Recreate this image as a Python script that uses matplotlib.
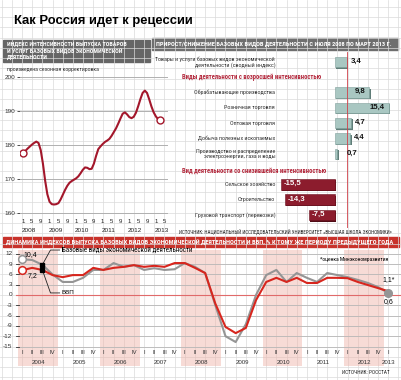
import matplotlib
matplotlib.use("Agg")
import matplotlib.pyplot as plt
import matplotlib.font_manager as fm
from matplotlib.patches import Rectangle
import numpy as np

W, H = 402, 380

# индекс интенсивности, помесячно с января 2008 по март 2013
intensity = [177.5, 178.2, 178.9, 179.5, 180.1, 180.6, 181.0, 180.6, 178.5, 174.5,
             169.5, 165.5, 163.3, 162.6, 162.5, 162.6, 162.9, 164.0, 165.4, 166.8,
             168.0, 168.9, 169.4, 169.8, 170.2, 170.8, 171.7, 172.7, 173.4, 173.3,
             172.9, 173.0, 174.5, 176.8, 178.8, 179.6, 180.3, 180.9, 181.3, 181.8,
             182.7, 183.8, 184.9, 186.3, 187.8, 189.2, 189.6, 189.0, 188.2, 187.9,
             188.3, 189.5, 191.4, 193.5, 195.3, 196.0, 195.3, 193.4, 191.3, 189.6,
             188.4, 187.6, 187.3]
intensity_years = [2008, 2009, 2010, 2011, 2012, 2013]
intensity_yticks = [160, 170, 180, 190, 200]

# прирост/снижение с июля 2008 по март 2013
total_label = "Товары и услуги базовых видов экономической\nдеятельности (сводный индекс)"
total_value = 3.4
up_labels = ["Обрабатывающие производства", "Розничная торговля", "Оптовая торговля",
             "Добыча полезных ископаемых",
             "Производство и распределение\nэлектроэнергии, газа и воды"]
up_values = [9.8, 15.4, 4.7, 4.4, 0.7]
down_labels = ["Сельское хозяйство", "Строительство", "Грузовой транспорт (перевозки)"]
down_values = [-15.5, -14.3, -7.5]

# поквартально, 2004 I - 2013 I
base_index = [10.4, 10.2, 8.8, 6.0, 3.8, 3.8, 5.0, 7.3, 7.3, 9.3,
              8.2, 8.7, 7.3, 7.8, 7.3, 7.5, 9.3, 8.2, 6.4, -3.0,
              -12.0, -13.7, -8.5, 0.0, 5.8, 7.3, 3.8, 6.4, 5.0, 3.8,
              6.4, 5.8, 5.2, 4.4, 3.5, 2.3, 0.6]
gdp = [7.2, 7.9, 7.3, 5.8, 5.2, 5.8, 5.8, 7.9, 7.3, 7.9,
       8.2, 8.7, 8.2, 8.5, 8.2, 9.3, 9.3, 7.9, 6.4, -2.5,
       -9.3, -11.1, -9.6, -1.5, 3.8, 5.0, 3.8, 5.0, 3.5, 3.5,
       5.0, 5.0, 4.9, 3.8, 2.9, 2.0, 1.1]
q_years = list(range(2004, 2014))
q_names = ["I", "II", "III", "IV"]
q_yticks = [12, 9, 6, 3, 0, -3, -6, -9, -12, -15]

# узкий шрифт, если он есть; иначе Liberation Sans помельче
names = {f.name for f in fm.fontManager.ttflist}
narrow = None
for n in ['Liberation Sans Narrow', 'Roboto Condensed', 'Open Sans Condensed', 'DejaVu Sans Condensed']:
    if n in names:
        narrow = n
        break
k = 1.15 if narrow else 1.0
NF = [narrow, 'Liberation Sans', 'DejaVu Sans'] if narrow else ['Liberation Sans', 'DejaVu Sans']
plt.rcParams['font.family'] = ['Liberation Sans', 'DejaVu Sans']

fig = plt.figure(figsize=(W / 100, H / 100), dpi=100)


def px_axes(x0, y0, x1, y1):
    a = fig.add_axes([x0 / W, 1 - y1 / H, (x1 - x0) / W, (y1 - y0) / H])
    a.set_facecolor('none')
    return a


# фон "миллиметровка" и подписи
bg = px_axes(0, 0, W, H)
bg.set_xlim(0, W)
bg.set_ylim(H, 0)
bg.axis('off')
for x in np.arange(22 - 10.175 * 3, W, 10.175):
    bg.plot([x, x], [0, H], color='#dadada', lw=0.5)
for y in np.arange(295 - 10.3 * 30, H, 10.3):
    bg.plot([0, W], [y, y], color='#dadada', lw=0.5)
bg.add_patch(Rectangle((0, 0), W, 34, color='white', alpha=0.35))

bg.text(14, 21, "Как Россия идет к рецессии", fontsize=9.4, fontweight='bold', va='center')

bg.add_patch(Rectangle((3, 40), 147, 22, color='#666666'))
bg.text(7, 51, "ИНДЕКС ИНТЕНСИВНОСТИ ВЫПУСКА ТОВАРОВ\nИ УСЛУГ БАЗОВЫХ ВИДОВ ЭКОНОМИЧЕСКОЙ\nДЕЯТЕЛЬНОСТИ",
        color='white', fontsize=3.75 * k, fontweight='bold', va='center', linespacing=1.25, family=NF)
bg.text(7, 69, "произведена сезонная корректировка", fontsize=3.6 * k, color='#333333',
        va='center', family=NF)

bg.add_patch(Rectangle((152, 38), 246, 12, color='#6e6e6e'))
bg.text(156, 44.2, "ПРИРОСТ/СНИЖЕНИЕ БАЗОВЫХ ВИДОВ ДЕЯТЕЛЬНОСТИ С ИЮЛЯ 2008 ПО МАРТ 2013 Г.",
        color='white', fontsize=4.0 * k, fontweight='bold', va='center', family=NF)
bg.text(392, 231, "ИСТОЧНИК: НАЦИОНАЛЬНЫЙ ИССЛЕДОВАТЕЛЬСКИЙ УНИВЕРСИТЕТ «ВЫСШАЯ ШКОЛА ЭКОНОМИКИ»",
        fontsize=3.1 * k, ha='right', va='center', color='#222222', family=NF)

bg.add_patch(Rectangle((3, 237), 396, 10, color='#c8322b'))
bg.text(6, 242.2, "ДИНАМИКА ИНДЕКСОВ ВЫПУСКА БАЗОВЫХ ВИДОВ ЭКОНОМИЧЕСКОЙ ДЕЯТЕЛЬНОСТИ И ВВП, % К ТОМУ ЖЕ ПЕРИОДУ ПРЕДЫДУЩЕГО ГОДА",
        color='white', fontsize=4.05 * k, fontweight='bold', va='center', family=NF)
bg.text(390, 372, "ИСТОЧНИК: РОССТАТ", fontsize=3.3 * k, ha='right', va='center',
        color='#222222', family=NF)

# --- индекс интенсивности ---
ax1 = px_axes(20, 70, 168, 216)
ax1.set_xlim((20 - 23) / 2.215, (168 - 23) / 2.215)
ax1.set_ylim(160 - 3 / 3.4, 200 + 7 / 3.4)
for s in ax1.spines.values():
    s.set_visible(False)
for v in intensity_yticks:
    ax1.axhline(v, color='#b0b0b0', lw=0.7)
ax1.set_yticks(intensity_yticks)
ax1.tick_params(axis='y', length=2, width=0.6, pad=1.5, labelsize=4.6, colors='#333333')
ax1.set_xticks([])
months = np.arange(len(intensity))
red = '#a3172b'
ax1.plot(months, intensity, color=red, lw=1.5, solid_capstyle='round')
ax1.plot(months[0], intensity[0], 'o', mfc='white', mec=red, ms=5, mew=1)
ax1.plot(months[-1], intensity[-1], 'o', mfc='white', mec=red, ms=5, mew=1)
for i, yr in enumerate(intensity_years):
    for mname in [1, 5, 9]:
        m = i * 12 + mname - 1
        if m > 65:
            continue
        ax1.text(m, 157.6, str(mname), fontsize=4.4, ha='center', va='center',
                 color='#222222', clip_on=False)
    ax1.text(i * 12 - 0.6, 155.0, str(yr), fontsize=4.6, ha='left', va='center',
             color='#222222', clip_on=False)

# --- прирост / снижение ---
ax2 = px_axes(150, 52, 400, 228)
ax2.set_xlim((150 - 335) / 3.5, (400 - 335) / 3.5)
slot = 15.3
ax2.set_ylim((228 - 62) / slot, -(62 - 52) / slot)
ax2.axis('off')
ax2.axvline(total_value, color='#d0404a', lw=0.6)

rows = [(0, total_label, total_value)]
rows += [(2 + i, lab, val) for i, (lab, val) in enumerate(zip(up_labels, up_values))]
rows += [(8 + i, lab, val) for i, (lab, val) in enumerate(zip(down_labels, down_values))]
bh = 0.69
dx, dy = 1.3 / 3.5, 1.3 / slot
for pos, lab, val in rows:
    if val >= 0:
        face, shade = '#a9c7c2', '#5f7d78'
    else:
        face, shade = '#8c1c2d', '#4f0c16'
    x0 = min(0, val)
    ax2.add_patch(Rectangle((x0 + dx, pos - bh / 2 + dy), abs(val), bh, color=shade, lw=0))
    ax2.add_patch(Rectangle((x0, pos - bh / 2), abs(val), bh, facecolor=face,
                            edgecolor='#7f9f9a' if val >= 0 else '#6e1422', lw=0.4))
    txt = f"{val:.1f}".replace('.', ',')
    if val < 0:
        ax2.text(val + 0.9, pos - 0.05, txt, color='white', fontsize=5.6, fontweight='bold',
                 ha='left', va='center')
    elif val >= 5:
        ax2.text(val - 1.2, pos - 0.05, txt, color='#111111', fontsize=5.6, fontweight='bold',
                 ha='right', va='center')
    else:
        ax2.text(max(val, 2.5) + 1.0, pos - 0.05, txt, color='#111111', fontsize=5.6,
                 fontweight='bold', ha='left', va='center')
    ax2.text(-17.1, pos, lab, fontsize=3.8 * k, ha='right', va='center', color='#333333',
             linespacing=1.15, family=NF)
ax2.text(-23.7, 1.0, "Виды деятельности с возросшей интенсивностью", fontsize=4.1 * k,
         fontweight='bold', color='#b3283c', ha='center', va='center', family=NF)
ax2.text(-23.0, 7.1, "Вид деятельности со снизившейся интенсивностью", fontsize=4.1 * k,
         fontweight='bold', color='#b3283c', ha='center', va='center', family=NF)

# --- динамика по кварталам ---
ax3 = px_axes(0, 248, W, 372)
qs = 10.175
vs = 10.3 / 3
ax3.set_xlim(-22 / qs, (W - 22) / qs)
ax3.set_ylim(-(372 - 295) / vs, (295 - 248) / vs)
ax3.axis('off')
for i, yr in enumerate(q_years):
    if i % 2 == 0 and yr < 2013:
        ax3.add_patch(Rectangle((4 * i - 0.35, -(366 - 295) / vs), 3.9, (366 - 250) / vs,
                                color='#eeb0a5', alpha=0.45, lw=0))
for v in q_yticks:
    ax3.plot([-0.6, 37.3], [v, v], color='#b8b8b8', lw=0.6)
    ax3.plot([-0.55, -0.25], [v, v], color='#333333', lw=0.6)
    ax3.text(-0.95, v, str(v), fontsize=4.6, ha='right', va='center', color='#333333')
ax3.plot([-0.6, 37.3], [0, 0], color='#e06a6a', lw=0.8)

q = np.arange(len(gdp))
grey = '#959595'
redl = '#d7261e'
ax3.plot(q, base_index, color=grey, lw=1.5, zorder=3)
ax3.plot(q, gdp, color=redl, lw=1.5, zorder=4)
ax3.plot(q[0], base_index[0], 'o', mfc='white', mec=grey, ms=5.5, mew=1.1, zorder=5)
ax3.plot(q[0], gdp[0], 'o', mfc='white', mec=redl, ms=5.5, mew=1.1, zorder=5)
ax3.plot(q[-1], base_index[-1], 'o', color=grey, ms=5.5, zorder=5)

fmt = lambda v: f"{v:.1f}".replace('.', ',')
ax3.text(0.85, 11.9, fmt(base_index[0]), fontsize=5, ha='center', va='center')
ax3.text(1.0, 5.8, fmt(gdp[0]), fontsize=5, ha='center', va='center')
ax3.text(36, 4.4, fmt(gdp[-1]) + "*", fontsize=5, ha='center', va='center')
ax3.text(36, -2.0, fmt(base_index[-1]), fontsize=5, ha='center', va='center')

# выноски
ax3.plot([2, 2.8, 3.7], [base_index[2], 13.1, 13.1], color='#222222', lw=0.6, zorder=6)
ax3.plot([2, 2.8, 3.7], [gdp[2], 0.6, 0.6], color='#222222', lw=0.6, zorder=6)
ax3.plot([2, 2], [base_index[2], gdp[2]], 's', color='black', ms=2.2, zorder=7)
ax3.text(3.9, 13.1, "Базовые виды экономической деятельности", fontsize=4.3 * k,
         va='center', family=NF)
ax3.text(3.9, 0.6, "ВВП", fontsize=4.5, va='center')
ax3.text((388 - 22) / qs, 10.2, "*оценка Минэкономразвития", fontsize=3.5 * k, ha='right',
         va='center', family=NF)

for i, yr in enumerate(q_years):
    for j, qn in enumerate(q_names):
        n = 4 * i + j
        if n >= len(gdp):
            break
        ax3.text(n, -(352 - 295) / vs, qn, fontsize=4.2, ha='center', va='center', color='#333333')
    xc = 4 * i + 1.65 if yr < 2013 else 4 * i
    ax3.text(xc, -(362 - 295) / vs, str(yr), fontsize=4.4, ha='center', va='center', color='#333333')

fig.savefig("out.png", dpi=100)
